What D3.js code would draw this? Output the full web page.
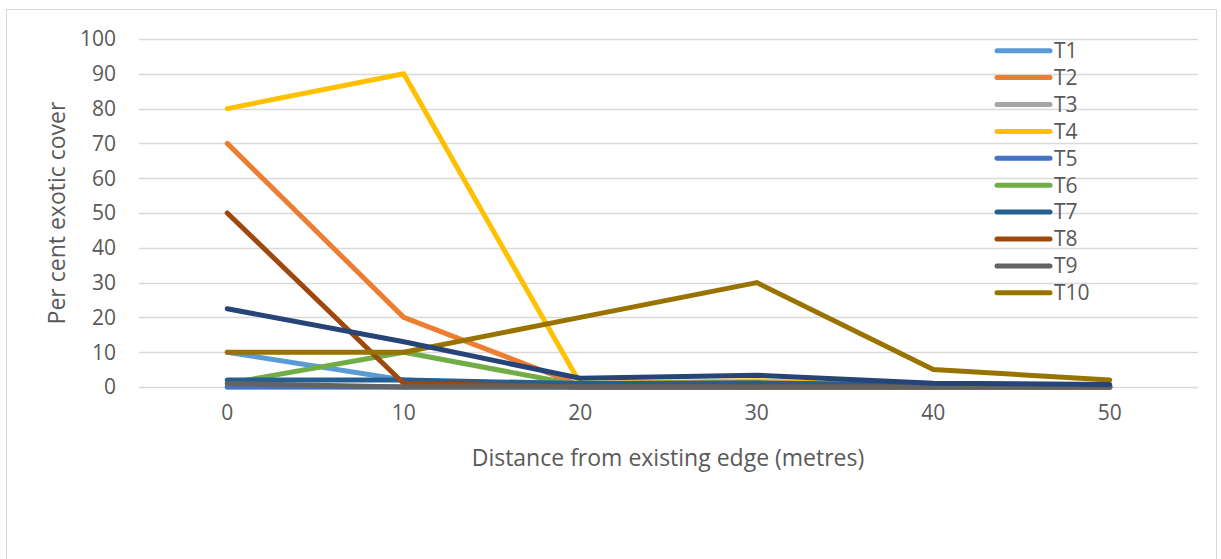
<!DOCTYPE html>
<meta charset="utf-8">
<head>
<style>
body { margin: 0; background: #fff; }
svg text { font-family: "Open Sans", sans-serif; fill: #595959; }
.grid line { stroke: #d9d9d9; stroke-width: 1.3; }
.series { fill: none; stroke-width: 5; stroke-linejoin: round; stroke-linecap: round; }
</style>
<script src="https://d3js.org/d3.v7.min.js"></script>
</head>
<body>
<svg id="chart" width="1221" height="559"></svg>
<script>

// distances along the transect (metres)
var distances = ['0', '10', '20', '30', '40', '50'];
var yTicks = [0, 10, 20, 30, 40, 50, 60, 70, 80, 90, 100];

var seriesNames = ['T1', 'T2', 'T3', 'T4', 'T5', 'T6', 'T7', 'T8', 'T9', 'T10', 'T11'];
var T1  = [10, 2, 0, 0, 0, 0];
var T2  = [70, 20, 0.5, 0, 0, 0];
var T3  = [0, 0, 0, 0, 0, 0];
var T4  = [80, 90, 1, 1.8, 0.3, 0.3];
var T5  = [0, 0, 0, 0, 0, 0];
var T6  = [1, 10, 0.5, 0, 0, 0];
var T7  = [2, 2, 1, 1.2, 0.6, 0.5];
var T8  = [50, 1, 0, 0, 0, 0];
var T9  = [1, 0, 0, 0, 0, 0];
var T10 = [10, 10, 20, 30, 5, 2];
var T11 = [22.5, 13, 2.5, 3.4, 1.1, 0.7];
var seriesValues = [T1, T2, T3, T4, T5, T6, T7, T8, T9, T10, T11];
var seriesColors = ['#5b9bd5', '#ed7d31', '#a5a5a5', '#ffc000', '#4472c4', '#70ad47',
                    '#255e91', '#9e480e', '#636363', '#997300', '#264478'];
// the legend box only has room for the first ten
var legendCount = 10;

var svg = d3.select('#chart');

svg.append('rect')
    .attr('x', 6.5).attr('y', 9.5)
    .attr('width', 1210).attr('height', 560)
    .attr('fill', 'none').attr('stroke', '#d9d9d9');

var x = d3.scaleBand().domain(distances).range([139, 1198]).padding(0);
var y = d3.scaleLinear().domain([0, 100]).range([387, 39]);
var cx = function(d){ return x(d) + x.bandwidth() / 2; };

// gridlines
svg.append('g').attr('class', 'grid')
  .selectAll('line').data(yTicks).enter().append('line')
    .attr('x1', 139).attr('x2', 1198)
    .attr('y1', function(d){ return Math.round(y(d)) + 0.5; })
    .attr('y2', function(d){ return Math.round(y(d)) + 0.5; });

// y tick labels
svg.append('g').selectAll('text').data(yTicks).enter().append('text')
    .attr('x', 116).attr('y', function(d){ return y(d); })
    .attr('dy', '0.35em')
    .attr('text-anchor', 'end')
    .style('font-size', '21px')
    .text(function(d){ return d; });

// x tick labels
svg.append('g').selectAll('text').data(distances).enter().append('text')
    .attr('x', cx).attr('y', 413)
    .attr('dy', '0.35em')
    .attr('text-anchor', 'middle')
    .style('font-size', '21px')
    .text(function(d){ return d; });

// axis titles
svg.append('text')
    .attr('x', 668).attr('y', 458).attr('dy', '0.35em')
    .attr('text-anchor', 'middle')
    .style('font-size', '23px')
    .text('Distance from existing edge (metres)');

svg.append('text')
    .attr('transform', 'translate(57,213) rotate(-90)')
    .attr('dy', '0.35em')
    .attr('text-anchor', 'middle')
    .style('font-size', '23px')
    .text('Per cent exotic cover');

// lines
var line = d3.line()
    .x(function(d, i){ return cx(distances[i]); })
    .y(function(d){ return y(d); });

svg.append('g').selectAll('path').data(seriesValues).enter().append('path')
    .attr('class', 'series')
    .attr('stroke', function(d, i){ return seriesColors[i]; })
    .attr('d', line);

// legend
var leg = svg.append('g').selectAll('g').data(seriesNames.slice(0, legendCount))
  .enter().append('g')
    .attr('transform', function(d, i){ return 'translate(0,' + (50.7 + i * 26.9) + ')'; });

leg.append('line')
    .attr('x1', 997).attr('x2', 1050)
    .attr('stroke', function(d, i){ return seriesColors[i]; })
    .attr('stroke-width', 5)
    .attr('stroke-linecap', 'round');

leg.append('text')
    .attr('x', 1054).attr('dy', '0.35em')
    .style('font-size', '21px')
    .text(function(d){ return d; });

</script>
</body>
